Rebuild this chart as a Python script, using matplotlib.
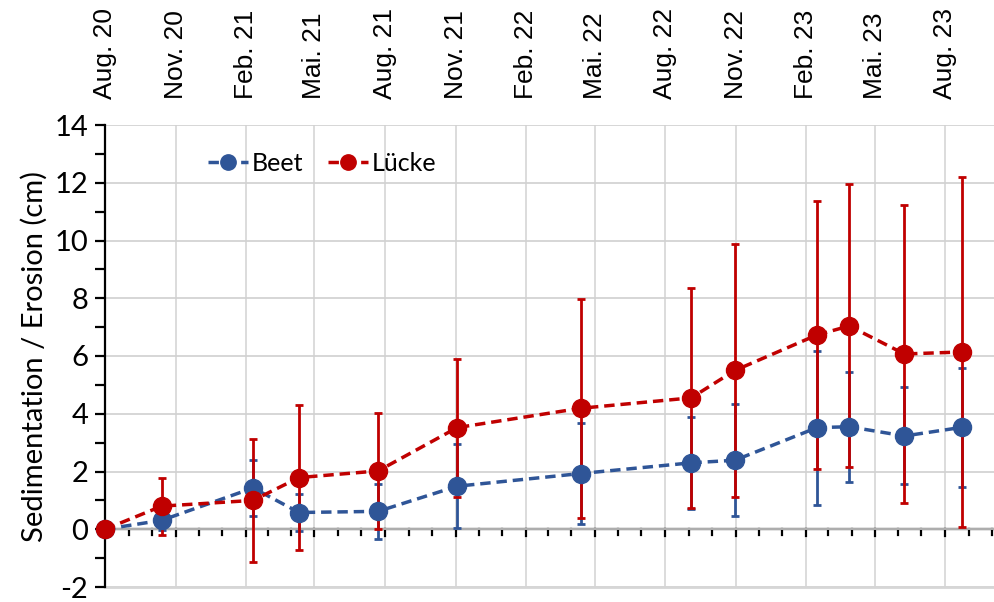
import matplotlib
matplotlib.use("Agg")
import pandas as pd
import matplotlib.pyplot as plt
import matplotlib.dates as mdates

plt.rcParams["axes.unicode_minus"] = False

# measurement dates
dates = ["2020-08-01", "2020-10-14", "2021-02-10", "2021-04-11", "2021-07-23",
         "2021-11-03", "2022-04-13", "2022-09-04", "2022-10-31", "2023-02-15",
         "2023-03-29", "2023-06-09", "2023-08-23"]

beet = [0.0, 0.31, 1.43, 0.58, 0.62, 1.49, 1.93, 2.30, 2.39, 3.52, 3.55, 3.23, 3.53]
beet_err = [0.0, 0.32, 0.96, 0.65, 0.95, 1.45, 1.76, 1.60, 1.94, 2.67, 1.90, 1.68, 2.05]

luecke = [0.0, 0.80, 1.00, 1.79, 2.02, 3.52, 4.19, 4.55, 5.50, 6.73, 7.04, 6.07, 6.14]
luecke_err = [0.0, 0.99, 2.13, 2.50, 2.02, 2.39, 3.80, 3.80, 4.38, 4.65, 4.90, 5.16, 6.06]

tick_dates = ["2020-08-01", "2020-11-01", "2021-02-01", "2021-05-01", "2021-08-01",
              "2021-11-01", "2022-02-01", "2022-05-01", "2022-08-01", "2022-11-01",
              "2023-02-01", "2023-05-01", "2023-08-01"]
tick_labels = ["Aug. 20", "Nov. 20", "Feb. 21", "Mai. 21", "Aug. 21", "Nov. 21",
               "Feb. 22", "Mai. 22", "Aug. 22", "Nov. 22", "Feb. 23", "Mai. 23", "Aug. 23"]

blue = "#2F5597"
red = "#C00000"
calibri = ["Lato", "DejaVu Sans"]

x = pd.to_datetime(dates)

fig = plt.figure(figsize=(9.95, 6.02), dpi=100)
ax = fig.add_axes([105 / 995, 15 / 602, 890 / 995, 462 / 602])

ax.errorbar(x, beet, yerr=beet_err, fmt="none", ecolor=blue, elinewidth=2,
            capsize=3, capthick=2, zorder=2)
ax.errorbar(x, luecke, yerr=luecke_err, fmt="none", ecolor=red, elinewidth=2,
            capsize=3, capthick=2, zorder=2.1)
ax.plot(x, beet, "--o", color=blue, lw=2.5, ms=13, dashes=(3, 1.7),
        label="Beet", zorder=3, clip_on=False)
ax.plot(x, luecke, "--o", color=red, lw=2.5, ms=13, dashes=(3, 1.7),
        label="Lücke", zorder=3.1, clip_on=False)

ax.set_xlim(pd.Timestamp("2020-08-01"), pd.Timestamp("2023-10-05"))
ax.set_ylim(-2, 14)

# grid
ax.set_yticks(range(-2, 15, 2))
ax.set_yticks(range(-1, 14, 2), minor=True)
ax.grid(axis="y", which="major", color="#D0D0D0", lw=1.2)
for td in tick_dates:
    ax.axvline(pd.Timestamp(td), color="#D6D6D6", lw=1.2, zorder=0)

# date labels on top
ax.set_xticks(pd.to_datetime(tick_dates))
ax.set_xticklabels(tick_labels, rotation=90, fontsize=19, family="Liberation Sans")
ax.xaxis.set_minor_locator(mdates.MonthLocator())
ax.tick_params(axis="x", which="both", top=False, bottom=False,
               labeltop=True, labelbottom=False, pad=15)

# ticks hanging from the zero line
for m in pd.date_range("2020-09-01", "2023-10-01", freq="MS"):
    major = m.month in (2, 5, 8, 11)
    ax.plot([m, m], [0, -0.24 if major else -0.2], color="black", lw=1.6, zorder=1)
ax.axhline(0, color="black", lw=1.6, zorder=1)

for s in ["top", "right", "bottom"]:
    ax.spines[s].set_visible(False)
ax.spines["left"].set_color("black")
ax.spines["left"].set_linewidth(1.6)
ax.plot([0, 1], [0, 0], transform=ax.transAxes, color="#D6D6D6", lw=2, clip_on=False)

ax.tick_params(axis="y", which="both", direction="out", length=7, width=1.6,
               labelsize=21, pad=5)
for t in ax.get_yticklabels():
    t.set_family(calibri)

ax.set_ylabel("Sedimentation / Erosion (cm)", fontsize=21, family=calibri, labelpad=5)

leg = ax.legend(loc="upper left", bbox_to_anchor=(0.09, 0.99), ncol=2, frameon=False,
                prop={"family": calibri, "size": 18}, handlelength=1.6,
                handletextpad=0.15, columnspacing=1.0, markerscale=0.85)

fig.savefig("out.png", dpi=100)
